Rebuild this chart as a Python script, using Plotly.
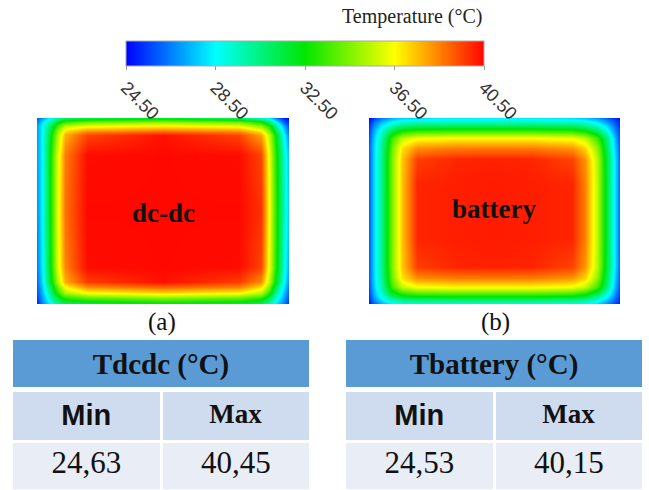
import plotly.graph_objects as go

# ---------------- data ----------------
cbar_ticks = [24.5, 28.5, 32.5, 36.5, 40.5]
cbar_ticktext = ["24.50", "28.50", "32.50", "36.50", "40.50"]

# dc-dc temperature field (rows top->bottom)
dc_x = [0, 0.02, 0.05, 0.08, 0.11, 0.2, 0.5, 0.8, 0.89, 0.92, 0.95, 0.98, 1.0]
dc_y = [0, 0.02, 0.045, 0.07, 0.09, 0.2, 0.5, 0.8, 0.88, 0.91, 0.94, 0.97, 1.0]
dc_z = [
    [26.0, 27.0, 28.5, 30.0, 31.0, 31.5, 32.0, 31.0, 29.5, 28.3, 26.5, 25.0, 24.6],
    [26.5, 28.0, 30.0, 32.0, 33.5, 34.3, 34.8, 34.3, 32.8, 31.0, 28.5, 26.0, 25.0],
    [27.0, 28.5, 31.0, 33.5, 35.5, 36.3, 36.8, 36.3, 34.8, 33.0, 30.2, 27.2, 25.5],
    [27.0, 28.5, 31.5, 34.5, 37.0, 38.3, 38.8, 38.3, 36.8, 34.5, 31.3, 27.8, 26.0],
    [27.0, 28.5, 32.0, 35.0, 37.8, 39.5, 40.3, 39.5, 38.0, 35.5, 32.2, 28.5, 26.5],
    [27.0, 28.5, 32.5, 35.8, 38.6, 40.4, 40.45, 40.4, 39.5, 36.3, 32.8, 29.3, 27.3],
    [26.8, 28.5, 32.5, 36.0, 38.8, 40.45, 40.45, 40.45, 39.8, 36.5, 33.0, 29.5, 27.5],
    [26.5, 28.3, 32.3, 35.8, 38.5, 40.4, 40.45, 40.4, 39.5, 36.3, 32.8, 29.0, 27.0],
    [26.2, 28.0, 31.8, 35.0, 37.8, 39.6, 40.3, 39.6, 38.3, 35.5, 32.0, 28.5, 26.7],
    [26.0, 27.7, 31.0, 34.0, 36.5, 38.3, 39.0, 38.5, 37.0, 34.5, 31.0, 28.0, 26.3],
    [25.8, 27.3, 30.2, 33.0, 35.0, 36.3, 37.0, 36.5, 35.3, 33.0, 30.0, 27.5, 26.0],
    [25.5, 27.0, 29.3, 31.5, 33.0, 33.8, 34.5, 34.0, 33.0, 31.3, 29.0, 27.0, 25.5],
    [25.0, 26.5, 28.3, 30.0, 30.8, 31.3, 32.0, 31.5, 31.0, 29.5, 28.0, 26.5, 25.0],
]

# battery temperature field (rows top->bottom)
bat_x = [0, 0.02, 0.05, 0.09, 0.13, 0.19, 0.35, 0.5, 0.65, 0.81, 0.86, 0.91, 0.95, 0.98, 1.0]
bat_y = [0, 0.02, 0.06, 0.11, 0.16, 0.22, 0.35, 0.5, 0.65, 0.8, 0.86, 0.91, 0.95, 0.98, 1.0]
bat_z = [
    [24.6, 25.5, 26.5, 27.3, 27.8, 28.0, 28.2, 28.3, 28.2, 28.0, 27.6, 27.0, 26.0, 25.2, 24.7],
    [25.0, 26.3, 27.5, 28.5, 29.2, 29.5, 29.6, 29.6, 29.6, 29.4, 29.0, 28.2, 27.0, 25.8, 25.0],
    [25.5, 27.2, 29.0, 31.0, 32.0, 32.5, 32.6, 32.6, 32.6, 32.4, 31.8, 30.5, 28.5, 26.5, 25.3],
    [25.8, 27.8, 30.0, 33.5, 35.5, 36.4, 36.6, 36.6, 36.6, 36.3, 35.5, 33.5, 30.5, 27.3, 25.6],
    [26.0, 28.0, 30.3, 34.2, 37.0, 38.3, 38.6, 38.6, 38.6, 38.2, 37.2, 34.8, 31.0, 27.7, 25.8],
    [26.0, 28.0, 30.5, 34.5, 37.4, 39.6, 40.0, 40.05, 40.0, 39.5, 38.2, 35.4, 31.4, 28.0, 26.0],
    [26.0, 28.0, 30.5, 34.5, 37.5, 40.0, 40.1, 40.15, 40.1, 40.0, 38.5, 35.5, 31.5, 28.0, 26.0],
    [26.0, 28.0, 30.5, 34.5, 37.5, 40.0, 40.1, 40.15, 40.1, 40.0, 38.5, 35.5, 31.5, 28.0, 26.0],
    [26.0, 28.0, 30.5, 34.5, 37.5, 40.0, 40.1, 40.15, 40.1, 40.0, 38.5, 35.5, 31.5, 28.0, 26.0],
    [26.0, 28.0, 30.5, 34.5, 37.4, 39.6, 40.0, 40.05, 40.0, 39.5, 38.2, 35.4, 31.4, 28.0, 26.0],
    [26.0, 28.0, 30.3, 34.2, 37.0, 38.3, 38.6, 38.6, 38.6, 38.2, 37.2, 34.8, 31.0, 27.7, 25.8],
    [25.8, 27.8, 30.0, 33.5, 35.5, 36.4, 36.6, 36.6, 36.6, 36.3, 35.5, 33.5, 30.5, 27.3, 25.6],
    [25.5, 27.3, 29.2, 31.4, 32.5, 33.0, 33.1, 33.1, 33.1, 32.9, 32.2, 30.8, 28.7, 26.6, 25.3],
    [25.2, 26.7, 28.2, 29.5, 30.2, 30.5, 30.6, 30.6, 30.6, 30.4, 30.0, 29.0, 27.5, 26.0, 25.1],
    [24.8, 26.0, 27.2, 28.2, 28.8, 29.0, 29.1, 29.1, 29.1, 28.9, 28.5, 27.8, 26.6, 25.5, 24.8],
]

map_labels = ["dc-dc", "battery"]
panel_labels = ["(a)", "(b)"]

table_titles = ["Tdcdc (°C)", "Tbattery (°C)"]
col_headers = ["Min", "Max"]
dc_minmax = ["24,63", "40,45"]
bat_minmax = ["24,53", "40,15"]

# ---------------- figure ----------------
W, H = 649, 490
def px(v):
    return v / W
def py(v):
    return 1 - v / H

jet = [[0.0, "rgb(0,0,255)"], [0.25, "rgb(0,255,255)"], [0.5, "rgb(0,230,0)"],
       [0.75, "rgb(255,255,0)"], [1.0, "rgb(255,5,0)"]]

fig = go.Figure()
fig.add_trace(go.Heatmap(x=dc_x, y=dc_y, z=dc_z, coloraxis="coloraxis",
                         zsmooth="best", xaxis="x", yaxis="y", hoverinfo="skip"))
fig.add_trace(go.Heatmap(x=bat_x, y=bat_y, z=bat_z, coloraxis="coloraxis",
                         zsmooth="best", xaxis="x2", yaxis="y2", hoverinfo="skip"))

serif = "Liberation Serif"
sans = "Liberation Sans"

tables = [(table_titles[0], dc_minmax, 13, 309), (table_titles[1], bat_minmax, 346, 642)]
for title, vals, x0, x1 in tables:
    # title row
    fig.add_trace(go.Table(
        domain=dict(x=[px(x0), px(x1)], y=[py(387), py(340)]),
        columnwidth=[1],
        header=dict(values=["<b>" + title + "</b>"], fill_color="#5b9bd5",
                    line=dict(width=0, color="#5b9bd5"), height=47, align="center",
                    font=dict(family=serif, size=29, color="#111")),
    ))
    # Min / Max row
    fig.add_trace(go.Table(
        domain=dict(x=[px(x0 - 1.5), px(x1 + 1.5)], y=[py(441.5), py(390.5)]),
        columnwidth=[1, 1],
        header=dict(values=["<b>" + c + "</b>" for c in col_headers], fill_color="#cfdbee",
                    line=dict(width=3, color="white"), height=51, align="center",
                    font=dict(family=[sans, serif], size=[29, 27], color="#111")),
    ))
    # value row
    fig.add_trace(go.Table(
        domain=dict(x=[px(x0 - 1.5), px(x1 + 1.5)], y=[0, py(441.5)]),
        columnwidth=[1, 1],
        header=dict(values=vals, fill_color="#e9edf5",
                    line=dict(width=3, color="white"), height=48.5, align="center",
                    font=dict(family=serif, size=31, color="#111")),
    ))

ax_common = dict(visible=False, showgrid=False, zeroline=False, range=[0, 1], fixedrange=True)
fig.update_layout(
    width=W, height=H,
    margin=dict(l=0, r=0, t=0, b=0),
    paper_bgcolor="white", plot_bgcolor="white",
    xaxis=dict(domain=[px(37), px(289)], **ax_common),
    yaxis=dict(domain=[py(304), py(118)], visible=False, range=[1, 0], fixedrange=True),
    xaxis2=dict(domain=[px(369), px(620)], **ax_common),
    yaxis2=dict(domain=[py(304), py(118)], visible=False, range=[1, 0], fixedrange=True),
    coloraxis=dict(
        colorscale=jet, cmin=24.5, cmax=40.5,
        colorbar=dict(
            orientation="h", x=px(305), xanchor="center", y=py(41), yanchor="top",
            len=358 / W, lenmode="fraction", thickness=25, thicknessmode="pixels",
            outlinewidth=1, outlinecolor="#aaaaaa", xpad=0, ypad=0,
            tickmode="array", tickvals=cbar_ticks, ticktext=cbar_ticktext,
            ticks="outside", ticklen=4, tickcolor="#999999", tickangle=45,
            tickfont=dict(family=sans, size=18, color="#333"),
        ),
    ),
    showlegend=False,
)

annots = [
    dict(text="Temperature (°C)", x=px(484), y=py(17), xanchor="right", yanchor="middle",
         font=dict(family=serif, size=20, color="#222")),
    dict(text="<b>" + map_labels[0] + "</b>", x=px(163), y=py(213), xanchor="center",
         yanchor="middle", font=dict(family=serif, size=27, color="#111")),
    dict(text="<b>" + map_labels[1] + "</b>", x=px(494), y=py(209), xanchor="center",
         yanchor="middle", font=dict(family=serif, size=27, color="#111")),
    dict(text=panel_labels[0], x=px(162), y=py(322), xanchor="center", yanchor="middle",
         font=dict(family=serif, size=25, color="#111")),
    dict(text=panel_labels[1], x=px(495), y=py(322), xanchor="center", yanchor="middle",
         font=dict(family=serif, size=25, color="#111")),
]
for a in annots:
    a.update(xref="paper", yref="paper", showarrow=False)
fig.update_layout(annotations=annots)

fig.write_html("out.html", config={"displayModeBar": False},
               post_script="document.body.style.margin='0px';")
